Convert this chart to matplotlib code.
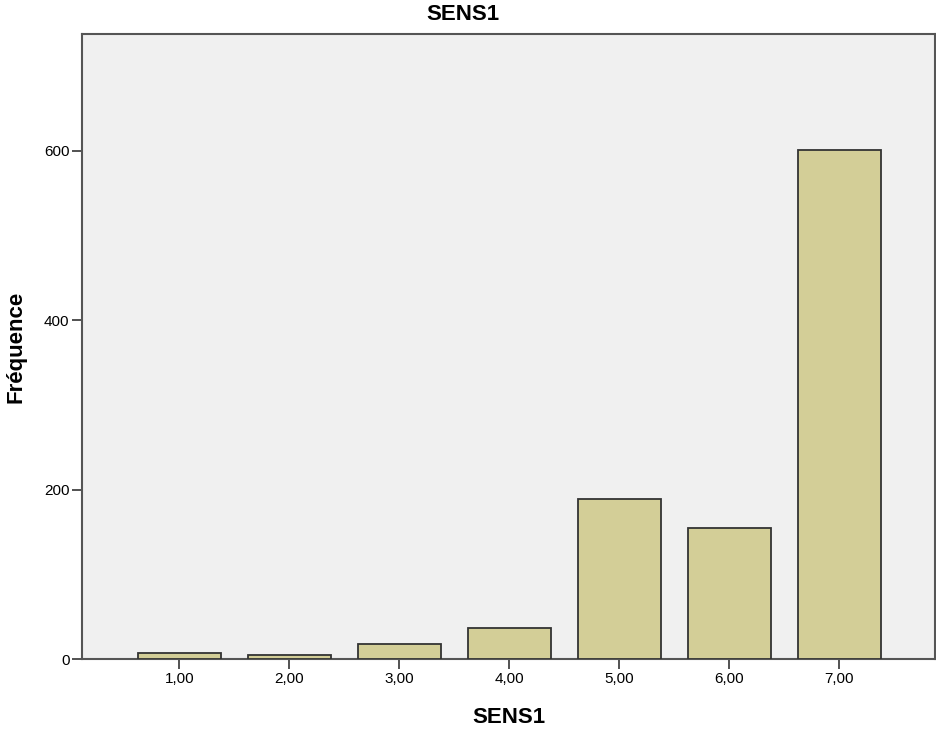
import matplotlib
matplotlib.use("Agg")
import matplotlib.pyplot as plt

categories = [1, 2, 3, 4, 5, 6, 7]
cat_labels = ["1,00", "2,00", "3,00", "4,00", "5,00", "6,00", "7,00"]
counts = [7, 5, 18, 37, 189, 155, 601]
yticks = [0, 200, 400, 600]

plt.rcParams['font.family'] = ['Liberation Sans', 'DejaVu Sans']

fig = plt.figure(figsize=(9.37, 7.31), dpi=100)
ax = fig.add_axes([0.0875, 0.0981, 0.9104, 0.8554])
ax.set_facecolor("#f0f0f0")

ax.bar(categories, counts, width=0.757, color="#d3ce97",
       edgecolor="#333333", linewidth=1.3, zorder=3)

ax.set_xlim(0.115, 7.87)
ax.set_ylim(0, 738)
ax.set_xticks(categories)
ax.set_xticklabels(cat_labels)
ax.set_yticks(yticks)
ax.tick_params(axis="both", direction="out", length=7, width=1.2,
               color="#333333", labelsize=11, pad=2)

for s in ax.spines.values():
    s.set_color("#555555")
    s.set_linewidth(1.5)

ax.set_xlabel("SENS1", fontsize=16, fontweight="bold", va="center")
ax.xaxis.set_label_coords(0.5, -0.0923)
ax.set_ylabel("Fréquence", fontsize=16, fontweight="bold", va="center")
ax.yaxis.set_label_coords(-0.0775, 0.5)
fig.text(463 / 937, 1 - 14.5 / 731, "SENS1", fontsize=16, fontweight="bold",
         ha="center", va="center")

fig.savefig("out.png", dpi=100)
